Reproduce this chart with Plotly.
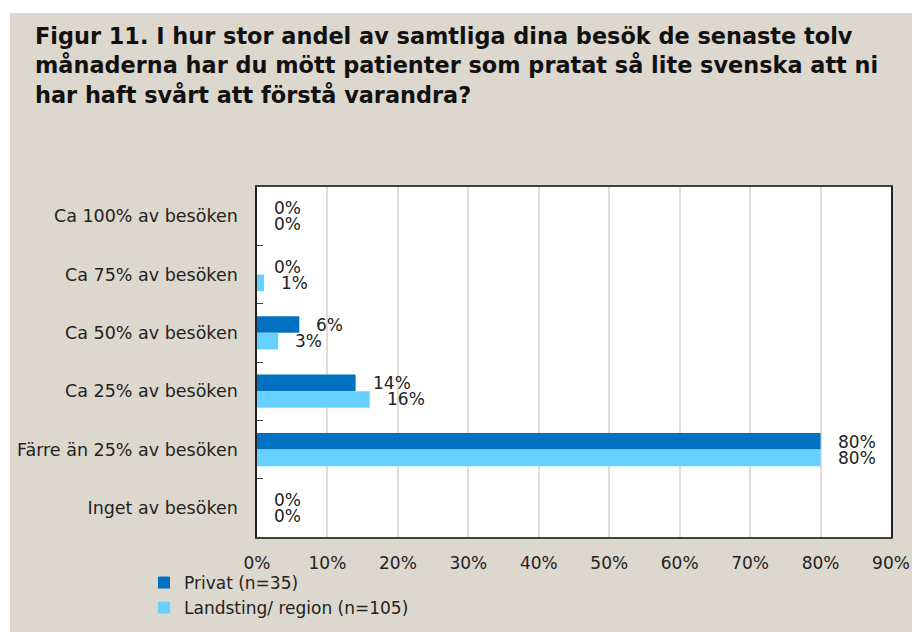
import plotly.graph_objects as go

categories = ["Ca 100% av besöken", "Ca 75% av besöken", "Ca 50% av besöken",
              "Ca 25% av besöken", "Färre än 25% av besöken", "Inget av besöken"]
privat = [0, 0, 6, 14, 80, 0]
landsting = [0, 1, 3, 16, 80, 0]
series_names = ["Privat (n=35)", "Landsting/ region (n=105)"]
x_ticks = [0, 10, 20, 30, 40, 50, 60, 70, 80, 90]
x_tick_labels = [f"{v}%" for v in x_ticks]
title_lines = ["Figur 11. I hur stor andel av samtliga dina besök de senaste tolv",
               "månaderna har du mött patienter som pratat så lite svenska att ni",
               "har haft svårt att förstå varandra?"]

BEIGE = "#DDD8CD"
DARK = "#0070C0"
LIGHT = "#66D1FF"
FONT = "DejaVu Sans"
TXT = "#222222"
FS = 17

W, H = 912, 632
ml, mr, mt, mb = 257, 21, 187, 95
pw, ph = W - ml - mr, H - mt - mb


def px_x(p):
    return (p - ml) / pw


def px_y(p):
    return 1 + (mt - p) / ph


fig = go.Figure()
fig.add_trace(go.Bar(y=categories, x=privat, name=series_names[0], orientation="h",
                     marker=dict(color=DARK, line=dict(width=0))))
fig.add_trace(go.Bar(y=categories, x=landsting, name=series_names[1], orientation="h",
                     marker=dict(color=LIGHT, line=dict(width=0))))

annotations = []
for vals, ys in ((privat, 8), (landsting, -8)):
    for c, v in zip(categories, vals):
        annotations.append(dict(x=v, y=c, xref="x", yref="y", text=f"{v}%",
                                showarrow=False, xanchor="left", yanchor="middle",
                                xshift=15, yshift=ys,
                                font=dict(family=FONT, size=FS, color=TXT)))
for i, line in enumerate(title_lines):
    annotations.append(dict(x=px_x(33), y=px_y(36 + 29.5 * i), xref="paper", yref="paper",
                            text=f"<b>{line}</b>", showarrow=False, xanchor="left",
                            yanchor="middle", align="left",
                            font=dict(family=FONT, size=22.4, color="#111111")))

shapes = [
    dict(type="rect", xref="paper", yref="paper", x0=px_x(0), x1=px_x(10),
         y0=px_y(H), y1=px_y(0), fillcolor="white", line=dict(width=0), layer="below"),
    dict(type="rect", xref="paper", yref="paper", x0=px_x(0), x1=px_x(W),
         y0=px_y(13), y1=px_y(0), fillcolor="white", line=dict(width=0), layer="below"),
]

fig.update_layout(
    width=W, height=H,
    margin=dict(l=ml, r=mr, t=mt, b=mb, autoexpand=False),
    paper_bgcolor=BEIGE, plot_bgcolor="white",
    barmode="group", bargap=0.43, bargroupgap=0,
    font=dict(family=FONT, size=FS, color=TXT),
    annotations=annotations, shapes=shapes,
    legend=dict(x=px_x(144), y=px_y(565), xanchor="left", yanchor="top",
                orientation="v", traceorder="normal", bgcolor="rgba(0,0,0,0)",
                font=dict(family=FONT, size=17, color=TXT),
                tracegroupgap=0, itemwidth=30),
    showlegend=True,
)
fig.update_xaxes(range=[0, 90], tickvals=x_ticks, ticktext=x_tick_labels,
                 showgrid=True, gridcolor="#E3DED5", gridwidth=1.5, automargin=False,
                 zeroline=False, showline=True, linecolor="#404040", linewidth=1.5,
                 mirror=True, ticks="", ticklabelstandoff=10,
                 tickfont=dict(family=FONT, size=FS, color=TXT), fixedrange=True)
fig.update_yaxes(autorange="reversed", type="category", showgrid=False, automargin=False,
                 showline=True, linecolor="#222222", linewidth=1.5, mirror=True,
                 ticks="inside", ticklen=6, tickcolor="#404040", tickson="boundaries",
                 ticklabelstandoff=14,
                 tickfont=dict(family=FONT, size=17.5, color=TXT), fixedrange=True)

fig.write_html("out.html", config={"displayModeBar": False},
               post_script="document.body.style.margin='0';document.body.style.overflow='hidden';")
